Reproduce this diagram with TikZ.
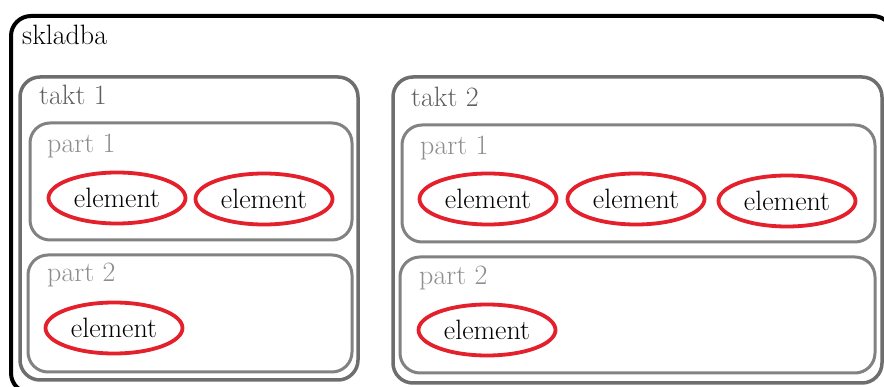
\documentclass[tikz,border=0pt]{standalone}
\usetikzlibrary{shapes.geometric}
\definecolor{taktgray}{HTML}{6E6E6E}
\definecolor{partgray}{HTML}{828282}
\definecolor{taktlbl}{HTML}{5F5F5F}
\definecolor{partlbl}{HTML}{8E8E8E}
\definecolor{elred}{HTML}{E3202B}
\tikzset{
  box/.style={rectangle, rounded corners=20pt, inner sep=0pt},
  outerbox/.style={box, draw=black, line width=4pt},
  taktbox/.style={box, draw=taktgray, line width=3.5pt},
  partbox/.style={box, draw=partgray, line width=3pt},
  elem/.style={ellipse, draw=elred, line width=3.8pt, minimum width=137pt, minimum height=51pt, inner sep=0pt, text=black, font=\fontsize{28}{34}\selectfont},
  lbl/.style={anchor=base west, inner sep=0pt, font=\fontsize{28}{34}\selectfont},
}
\begin{document}
\begin{tikzpicture}[x=1pt,y=-1pt]
\useasboundingbox (0,0) rectangle (884,387);
\fill[white] (0,0) rectangle (884,387);
\node[outerbox, minimum width=882pt, minimum height=377pt] (sk) at (452,204.5) {};
\node[taktbox, minimum width=338pt, minimum height=303pt] (t1) at (189,228.5) {};
\node[taktbox, minimum width=489pt, minimum height=306pt] (t2) at (637.5,230) {};
\node[partbox, minimum width=322pt, minimum height=117pt] (p11) at (191,181.5) {};
\node[partbox, minimum width=324pt, minimum height=117pt] (p12) at (190,313.5) {};
\node[partbox, minimum width=473pt, minimum height=117pt] (p21) at (638.5,183.5) {};
\node[partbox, minimum width=475pt, minimum height=116pt] (p22) at (637.5,315) {};
\node[lbl, text=black] (lsk) at (22,45) {skladba};
\node[lbl, text=taktlbl] (lt1) at (39,105) {takt 1};
\node[lbl, text=partlbl] (lp11) at (47,153) {part 1};
\node[lbl, text=partlbl] (lp12) at (47,282) {part 2};
\node[lbl, text=taktlbl] (lt2) at (411,107) {takt 2};
\node[lbl, text=partlbl] (lp21) at (420,155) {part 1};
\node[lbl, text=partlbl] (lp22) at (419,285) {part 2};
\node[elem] (e111) at (117,198) {element};
\node[elem] (e112) at (264,199) {element};
\node[elem] (e121) at (114,328) {element};
\node[elem] (e211) at (488,199) {element};
\node[elem] (e212) at (636,199) {element};
\node[elem] (e213) at (787,201) {element};
\node[elem] (e221) at (487,330) {element};
\end{tikzpicture}
\end{document}
